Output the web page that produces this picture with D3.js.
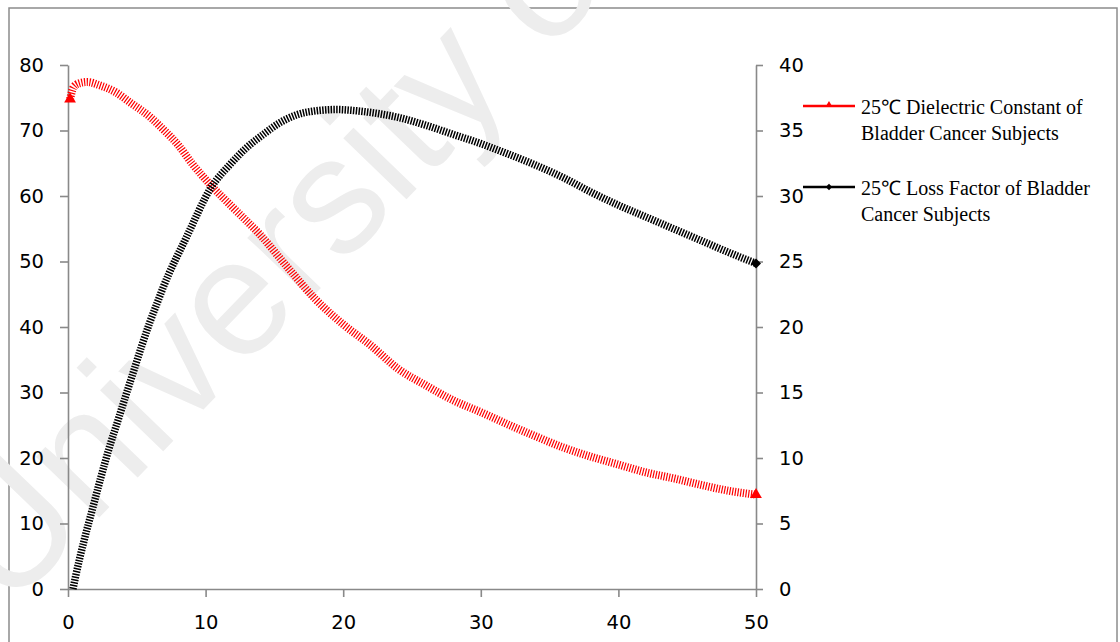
<!DOCTYPE html>
<html>
<head>
<meta charset="utf-8">
<script src="https://cdn.jsdelivr.net/npm/d3@7"></script>
<style>
  body { margin: 0; background: #fff; }
  .axis text { font-family: "DejaVu Sans", sans-serif; font-size: 19.5px; fill: #000; }
  .axis line, .axis path { stroke: #898989; stroke-width: 1.6; }
  .legend text { font-family: "Liberation Serif", serif; font-size: 20px; fill: #000; }
</style>
</head>
<body>
<svg id="chart"></svg>
<script>
// tick labels
const xTicks = [0, 10, 20, 30, 40, 50];
const leftTicks = [0, 10, 20, 30, 40, 50, 60, 70, 80];
const rightTicks = [0, 5, 10, 15, 20, 25, 30, 35, 40];

// 25C dielectric constant (left axis)
const dielectricX = [0.15, 0.4, 0.8, 1.4, 2.3, 3.5, 4.5, 6, 7, 8, 9, 10.4, 12, 14, 16, 18, 20, 22, 24, 26, 28, 30, 32, 34, 36, 38, 40, 42, 44, 46, 48, 50];
const dielectricY = [74.8, 76.6, 77.2, 77.4, 76.9, 75.8, 74.3, 72.0, 70.0, 67.8, 65.0, 61.6, 58.2, 54.0, 49.0, 44.2, 40.4, 37.2, 33.6, 31.1, 28.8, 27.0, 25.1, 23.3, 21.6, 20.2, 19.0, 17.8, 16.9, 15.9, 15.0, 14.4];

// 25C loss factor (right axis)
const lossX = [0.36, 0.56, 1.18, 1.77, 2.35, 2.96, 3.61, 4.22, 4.8, 5.38, 5.96, 6.56, 6.93, 8.63, 10.43, 11.77, 12.99, 14.19, 15.4, 16.62, 18, 19.5, 21, 22.5, 24, 26, 28, 30, 32, 34, 36, 38, 40, 42, 44, 46, 48, 50];
const lossY = [0.0, 1.0, 3.75, 6.08, 8.37, 10.65, 12.8, 14.83, 16.73, 18.63, 20.4, 22.05, 23.06, 26.9, 30.7, 32.4, 33.7, 34.7, 35.6, 36.2, 36.5, 36.6, 36.5, 36.3, 36.0, 35.4, 34.7, 34.0, 33.2, 32.35, 31.4, 30.3, 29.3, 28.4, 27.5, 26.6, 25.7, 24.85];

const legendLabels = [
  ["25℃ Dielectric Constant of", "Bladder Cancer Subjects"],
  ["25℃ Loss Factor of Bladder", "Cancer Subjects"]
];

const width = 1120, height = 642;
const svg = d3.select("#chart").attr("width", width).attr("height", height);

// outer frame
svg.append("rect")
  .attr("x", 9).attr("y", 8)
  .attr("width", 1108).attr("height", 640)
  .attr("fill", "none").attr("stroke", "#8c8c8c").attr("stroke-width", 1.5);

// watermark (runs off the top edge like in the scan)
svg.append("text")
  .attr("transform", "translate(8,612) rotate(-46)")
  .attr("font-family", "Liberation Sans, sans-serif")
  .attr("font-size", 166)
  .attr("fill", "#ededed")
  .text("University of");

const x = d3.scaleLinear().domain([0, 50]).range([68, 756]);
const yLeft = d3.scaleLinear().domain([0, 80]).range([589, 65]);
const yRight = d3.scaleLinear().domain([0, 40]).range([589, 65]);

svg.append("g")
  .attr("class", "axis")
  .attr("transform", "translate(0,589)")
  .call(d3.axisBottom(x).tickValues(xTicks).tickSize(8).tickSizeOuter(0).tickPadding(18));

svg.append("g")
  .attr("class", "axis")
  .attr("transform", "translate(68,0)")
  .call(d3.axisLeft(yLeft).tickValues(leftTicks).tickSize(8).tickSizeOuter(0).tickPadding(16));

svg.append("g")
  .attr("class", "axis")
  .attr("transform", "translate(756,0)")
  .call(d3.axisRight(yRight).tickValues(rightTicks).tickSize(7).tickSizeOuter(0).tickPadding(16));

// series drawn as a dense band of markers
const redData = dielectricX.map((d, i) => [d, dielectricY[i]]);
const blackData = lossX.map((d, i) => [d, lossY[i]]);

const redLine = d3.line().x(d => x(d[0])).y(d => yLeft(d[1])).curve(d3.curveMonotoneX);
const blackLine = d3.line().x(d => x(d[0])).y(d => yRight(d[1])).curve(d3.curveMonotoneX);

svg.append("path")
  .datum(redData)
  .attr("d", redLine)
  .attr("fill", "none")
  .attr("stroke", "#ff0000")
  .attr("stroke-width", 8)
  .attr("stroke-dasharray", "1.2 1.5");

svg.append("path")
  .datum(blackData)
  .attr("d", blackLine)
  .attr("fill", "none")
  .attr("stroke", "#000")
  .attr("stroke-width", 7.5)
  .attr("stroke-dasharray", "1.5 1.3");

const tri = d3.symbol().type(d3.symbolTriangle);
const dia = d3.symbol().type(d3.symbolSquare);

svg.selectAll(".redEnd")
  .data([redData[0], redData[redData.length - 1]])
  .enter().append("path")
  .attr("d", tri.size(60))
  .attr("transform", d => `translate(${x(d[0])},${yLeft(d[1])})`)
  .attr("fill", "#ff0000");

svg.selectAll(".blackEnd")
  .data([blackData[blackData.length - 1]])
  .enter().append("path")
  .attr("d", dia.size(50))
  .attr("transform", d => `translate(${x(d[0])},${yRight(d[1])}) rotate(45)`)
  .attr("fill", "#000");

// legend
const legend = svg.append("g").attr("class", "legend");
const legendColors = ["#ff0000", "#000"];
const legendY = [106, 187];

legendLabels.forEach((lines, i) => {
  const g = legend.append("g").attr("transform", `translate(0,${legendY[i]})`);
  g.append("line")
    .attr("x1", 803).attr("x2", 855)
    .attr("stroke", legendColors[i]).attr("stroke-width", 2.5);
  if (i === 0) {
    g.append("path").attr("d", tri.size(22)).attr("transform", "translate(829,-1)").attr("fill", legendColors[i]);
  } else {
    g.append("path").attr("d", dia.size(20)).attr("transform", "translate(829,0) rotate(45)").attr("fill", legendColors[i]);
  }
  g.selectAll("text")
    .data(lines)
    .enter().append("text")
    .attr("x", 861)
    .attr("y", (d, j) => 8 + j * 26)
    .text(d => d);
});
</script>
</body>
</html>
